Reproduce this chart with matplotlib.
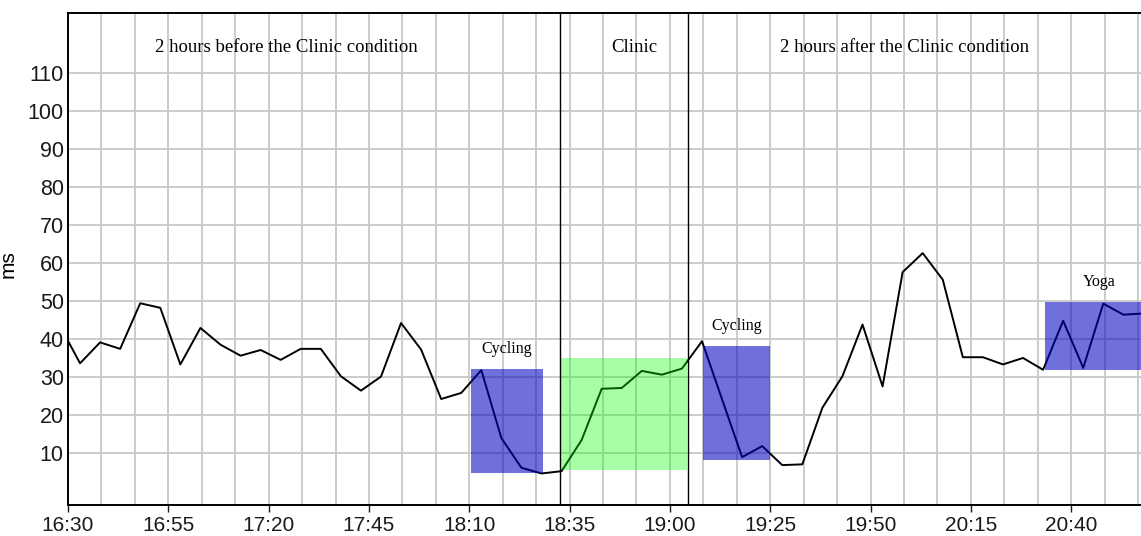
import numpy as np
from matplotlib import pyplot as plt
from matplotlib.patches import Rectangle

# readings (times as HH:MM, value in ms)
times = ["16:30", "16:33", "16:38", "16:43", "16:48", "16:53", "16:58", "17:03",
         "17:08", "17:13", "17:18", "17:23", "17:28", "17:33", "17:38", "17:43",
         "17:48", "17:53", "17:58", "18:03", "18:08", "18:13", "18:18", "18:23",
         "18:28", "18:33", "18:38", "18:43", "18:48", "18:53", "18:58", "19:03",
         "19:08", "19:13", "19:18", "19:23", "19:28", "19:33", "19:38", "19:43",
         "19:48", "19:53", "19:58", "20:03", "20:08", "20:13", "20:18", "20:23",
         "20:28", "20:33", "20:38", "20:43", "20:48", "20:53", "20:58"]
valores = [39.4, 33.5, 39.0, 37.3, 49.3, 48.1, 33.2, 42.8,
           38.4, 35.5, 37.0, 34.4, 37.3, 37.3, 30.1, 26.3,
           30.0, 44.1, 37.1, 24.1, 25.7, 31.7, 13.8, 6.0,
           4.5, 5.1, 13.3, 26.8, 27.0, 31.5, 30.5, 32.1,
           39.3, 24.0, 8.8, 11.7, 6.7, 6.9, 21.8, 30.1,
           43.7, 27.4, 57.5, 62.5, 55.5, 35.1, 35.1, 33.2,
           34.9, 31.8, 44.7, 32.3, 49.2, 46.3, 46.6]

etiquetas_x = ["16:30", "16:55", "17:20", "17:45", "18:10", "18:35",
               "19:00", "19:25", "19:50", "20:15", "20:40"]
etiquetas_y = [10, 20, 30, 40, 50, 60, 70, 80, 90, 100, 110]

# actividades: (inicio, fin, y min, y max, nombre, centro del texto)
actividades = [("18:10.4", "18:28.3", 4.5, 32.0, "Cycling", "18:19.2"),
               ("19:08.3", "19:25.0", 8.1, 38.0, "Cycling", "19:16.7"),
               ("20:33.6", "21:05.0", 31.8, 49.7, "Yoga", "20:47.0")]
clinica = ("18:32.7", "19:04.2", 5.3, 35.0)
limites_clinica = ["18:32.5", "19:04.6"]
secciones = [("17:24.3", "2 hours before the Clinic condition"),
             ("18:51.1", "Clinic"),
             ("19:58.4", "2 hours after the Clinic condition")]


def minutos(hhmm):
    h, m = hhmm.split(":")
    return (int(h) - 16) * 60 + float(m) - 30


xx = np.array([minutos(t) for t in times])
yy = np.array(valores)

plt.rcParams['font.family'] = ['Liberation Sans', 'DejaVu Sans']
fig = plt.figure(figsize=(11.41, 5.36), dpi=100)
ax = fig.add_axes([68 / 1141, 1 - 505 / 536, 1 - 68 / 1141, (505 - 13) / 536])

ax.plot(xx, yy, color="black", lw=1.4, zorder=3)

for ini, fin, y0, y1, nombre, centro in actividades:
    x0, x1 = minutos(ini), minutos(fin)
    ax.add_patch(Rectangle((x0, y0), x1 - x0, y1 - y0, facecolor=(0, 0, 0.74),
                           alpha=0.56, lw=0, zorder=4))
    ax.text(minutos(centro), y1 + 3.2, nombre, ha="center", va="bottom",
            fontsize=11.5, family="Liberation Serif", zorder=5)

x0, x1 = minutos(clinica[0]), minutos(clinica[1])
ax.add_patch(Rectangle((x0, clinica[2]), x1 - x0, clinica[3] - clinica[2],
                       facecolor=(0, 1, 0), alpha=0.35, lw=0, zorder=4))

for lim in limites_clinica:
    ax.axvline(minutos(lim), color="black", lw=1.0, zorder=5)

for centro, texto in secciones:
    ax.text(minutos(centro), 116.5, texto, ha="center", va="center",
            fontsize=13.5, family="Liberation Serif", zorder=5)

ax.set_xlim(0, 267.4)
ax.set_ylim(-3.8, 125.7)
ax.set_xticks([minutos(t) for t in etiquetas_x])
ax.set_xticklabels(etiquetas_x)
ax.set_xticks(np.arange(0, 268, 25 / 3), minor=True)
ax.set_yticks(etiquetas_y)
ax.set_yticklabels([str(v) for v in etiquetas_y])
ax.grid(True, which="both", axis="x", color="#c8c8c8", lw=1.3, zorder=1)
ax.grid(True, which="major", axis="y", color="#c8c8c8", lw=1.3, zorder=1)
ax.set_axisbelow(True)
ax.tick_params(axis="x", which="major", length=5, width=1, labelsize=15,
               colors="#1a1a1a", pad=3)
ax.tick_params(axis="x", which="minor", length=0)
ax.tick_params(axis="y", length=0, labelsize=15.5, colors="#1a1a1a", pad=3)
ax.set_ylabel("ms", fontsize=15)
ax.yaxis.set_label_coords(-0.0466, 0.49)
for lado in ["left", "bottom", "top"]:
    ax.spines[lado].set_linewidth(1.4)
ax.spines["right"].set_visible(False)

plt.savefig("out.png", dpi=100)
